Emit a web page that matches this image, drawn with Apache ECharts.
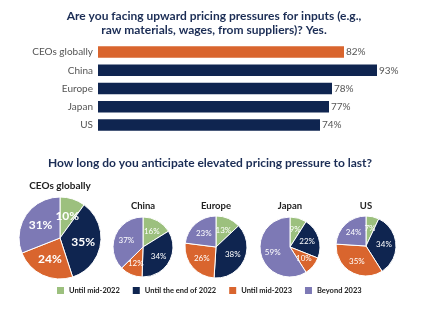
<!DOCTYPE html>
<html>
<head>
<meta charset="utf-8">
<script src="https://cdn.jsdelivr.net/npm/echarts@6/dist/echarts.min.js"></script>
<style>
  html, body { margin: 0; padding: 0; background: #fff; }
  #chart { width: 431px; height: 330px; }
</style>
</head>
<body>
<div id="chart"></div>
<script>
// Share of respondents facing upward pricing pressure on inputs
const barCategories = ['CEOs globally', 'China', 'Europe', 'Japan', 'US'];
const barValues = [82, 93, 78, 77, 74];

// Expected duration of elevated pricing pressure, by region
const durationNames = ['Until mid-2022', 'Until the end of 2022', 'Until mid-2023', 'Beyond 2023'];
const pieRegions = ['CEOs globally', 'China', 'Europe', 'Japan', 'US'];
const ceosGlobally = [10, 35, 24, 31];
const china = [16, 34, 12, 37];
const europe = [13, 38, 26, 23];
const japan = [9, 22, 10, 59];
const us = [7, 34, 35, 24];

const pieValues = [ceosGlobally, china, europe, japan, us];

const ORANGE = '#D9652E';
const NAVY = '#0F2550';
const GREEN = '#9CC07E';
const PURPLE = '#7D79B5';
const sliceColors = [GREEN, NAVY, ORANGE, PURPLE];
const TITLE_COLOR = '#1B2D55';
const FONT = 'Lato, "Open Sans", sans-serif';

// Layout of each pie: centre, radius, label size, title top
const pieLayout = [
  { c: [60, 238], r: 41, fs: 12, ty: 181 },
  { c: [143, 247], r: 30, fs: 8, ty: 201 },
  { c: [216, 247], r: 31, fs: 8, ty: 201 },
  { c: [290, 247], r: 30, fs: 8, ty: 201 },
  { c: [366, 246], r: 30, fs: 8, ty: 201 }
];

const chart = echarts.init(document.getElementById('chart'), null, { renderer: 'canvas' });

const titles = [
  {
    text: 'Are you facing upward pricing pressures for inputs (e.g.,\nraw materials, wages, from suppliers)? Yes.',
    left: 214, top: 9, textAlign: 'center', padding: 0,
    textStyle: { fontFamily: FONT, fontSize: 12, fontWeight: 'bold', color: TITLE_COLOR, lineHeight: 14, align: 'center' }
  },
  {
    text: 'How long do you anticipate elevated pricing pressure to last?',
    left: 210, top: 157, textAlign: 'center', padding: 0,
    textStyle: { fontFamily: FONT, fontSize: 12, fontWeight: 'bold', color: TITLE_COLOR }
  }
];

pieRegions.forEach((name, i) => {
  const L = pieLayout[i];
  titles.push({
    text: name,
    left: L.c[0], top: L.ty, textAlign: 'center', padding: 0,
    textStyle: { fontFamily: FONT, fontSize: i === 0 ? 10 : 9.5, fontWeight: 'bold', color: '#222' }
  });
});

const series = [{
  type: 'bar',
  data: barValues.map((v, i) => ({ value: v, itemStyle: { color: i === 0 ? ORANGE : NAVY } })),
  barCategoryGap: '37%',
  label: {
    show: true, position: 'right', distance: 2,
    formatter: '{c}%',
    fontFamily: FONT, fontSize: 10, color: '#555'
  },
  silent: true
}];

pieValues.forEach((vals, i) => {
  const L = pieLayout[i];
  series.push({
    type: 'pie',
    center: L.c,
    radius: [0, L.r],
    startAngle: 90,
    clockwise: true,
    silent: true,
    itemStyle: { borderColor: '#fff', borderWidth: 1 },
    label: {
      show: true, position: 'inside',
      formatter: '{c}%',
      fontFamily: FONT, fontSize: L.fs, color: '#fff', fontWeight: i === 0 ? 'bold' : 'normal'
    },
    labelLine: { show: false },
    data: vals.map((v, k) => ({ name: durationNames[k], value: v, itemStyle: { color: sliceColors[k] } }))
  });
});

chart.setOption({
  animation: false,
  title: titles,
  grid: { left: 98, right: 33, top: 43, height: 91 },
  xAxis: { type: 'value', min: 0, max: 100, show: false },
  yAxis: {
    type: 'category', inverse: true, data: barCategories,
    axisLine: { show: false }, axisTick: { show: false },
    axisLabel: { fontFamily: FONT, fontSize: 10, color: '#555', margin: 5 }
  },
  legend: {
    data: durationNames,
    top: 285, left: 55, padding: 0,
    icon: 'rect', itemWidth: 9, itemHeight: 9, itemGap: 11,
    selectedMode: false,
    textStyle: { fontFamily: FONT, fontSize: 7.5, fontWeight: 'bold', color: '#1a1a1a', padding: [0, 0, 0, -1] }
  },
  series: series
});
</script>
</body>
</html>
